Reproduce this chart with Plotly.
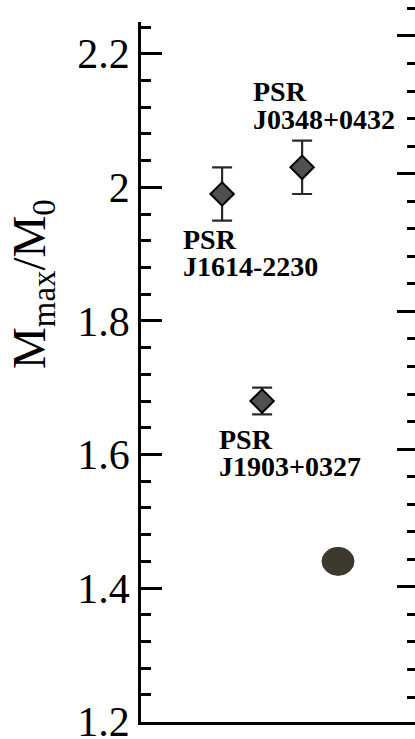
import plotly.graph_objects as go

# Measured maximum neutron-star masses (in solar masses) with 1-sigma errors
pulsars = ["PSR J1614-2230", "PSR J0348+0432", "PSR J1903+0327"]
pulsar_col = [0.296, 0.588, 0.442]
pulsar_mass = [1.99, 2.03, 1.68]
pulsar_err = [0.04, 0.04, 0.02]

# Canonical 1.44 M0 neutron star
canon_col = [0.719]
canon_mass = [1.44]

y_ticks = [1.2, 1.4, 1.6, 1.8, 2.0, 2.2]

SERIF = "Liberation Serif, Times New Roman, serif"

W, H = 415, 739
ML, MB = 141, 17
PLOT_H = H - MB

fig = go.Figure()

fig.add_trace(go.Scatter(
    x=pulsar_col, y=pulsar_mass,
    mode="markers",
    marker=dict(symbol="diamond", size=18, color="#505050",
                line=dict(color="#000000", width=2)),
    error_y=dict(type="data", array=pulsar_err, color="#2a2a2a",
                 thickness=2.2, width=10),
    showlegend=False, hoverinfo="skip", cliponaxis=False,
))

# placeholder trace so the neighbouring-panel axis gets drawn
fig.add_trace(go.Scatter(x=[None], y=[None], yaxis="y2", xaxis="x",
                         showlegend=False, hoverinfo="skip"))

# filled ellipse for the canonical mass
for cx, cy in zip(canon_col, canon_mass):
    fig.add_shape(type="circle", xref="x", yref="y",
                  xsizemode="pixel", ysizemode="pixel",
                  xanchor=cx, yanchor=cy,
                  x0=-16, x1=16, y0=-14, y1=14,
                  fillcolor="#3d392e", line=dict(color="#3d392e", width=1))

# pulsar names, two lines each, offset from the point (px)
label_offsets = {
    "PSR J1614-2230": (-40, -46, -73),
    "PSR J0348+0432": (-50, 76, 48),
    "PSR J1903+0327": (-44, -38, -65),
}
for name, cx, cy in zip(pulsars, pulsar_col, pulsar_mass):
    first, second = name.split(" ")
    dx, dy1, dy2 = label_offsets[name]
    for txt, dy in ((first, dy1), (second, dy2)):
        fig.add_annotation(x=cx, y=cy, xref="x", yref="y", text=txt,
                           showarrow=False, xanchor="left", yanchor="middle",
                           xshift=dx, yshift=dy, borderpad=0,
                           font=dict(family=SERIF, size=28, color="#000000",
                                     weight="bold"))

# rotated axis title
fig.add_annotation(
    text="M<sub>max</sub>/M<sub>0</sub>",
    xref="paper", yref="paper",
    x=(32 - ML) / (W - ML), y=(PLOT_H - 284) / PLOT_H,
    xanchor="center", yanchor="middle", textangle=-90, showarrow=False,
    font=dict(family=SERIF, size=47, color="#000000"),
)

y_top = 2.2475
fig.update_layout(
    width=W, height=H,
    margin=dict(l=ML, r=0, t=0, b=MB, pad=0, autoexpand=False),
    paper_bgcolor="white", plot_bgcolor="rgba(0,0,0,0)",
    xaxis=dict(range=[0, 1], domain=[0, 1], showgrid=False, zeroline=False,
               showticklabels=False, ticks="", showline=True,
               linecolor="#000000", linewidth=2.5, automargin=False),
    yaxis=dict(range=[1.1995, y_top], domain=[0, (PLOT_H - 22) / PLOT_H],
               tickvals=y_ticks, ticks="inside", ticklen=21, tickwidth=2.5,
               tickcolor="#000000",
               minor=dict(dtick=0.04, tick0=1.2, ticks="inside", ticklen=10,
                          tickwidth=2.5, tickcolor="#000000", showgrid=False),
               showline=True, linecolor="#000000", linewidth=2.8,
               showgrid=False, zeroline=False, automargin=False,
               tickfont=dict(family=SERIF, size=42, color="#000000"),
               ticklabelstandoff=0, ticklabeloverflow="allow"),
    yaxis2=dict(range=[0.019, 5.21], domain=[0, 715 / PLOT_H],
                anchor="free", position=1, side="right", automargin=False,
                tick0=0, dtick=1, ticks="inside", ticklen=18, tickwidth=2.5,
                tickcolor="#000000",
                minor=dict(dtick=0.2, tick0=0, ticks="inside", ticklen=8,
                           tickwidth=2.5, tickcolor="#000000", showgrid=False),
                showticklabels=False, showline=False, showgrid=False,
                zeroline=False),
)

fig.write_html("out.html")
